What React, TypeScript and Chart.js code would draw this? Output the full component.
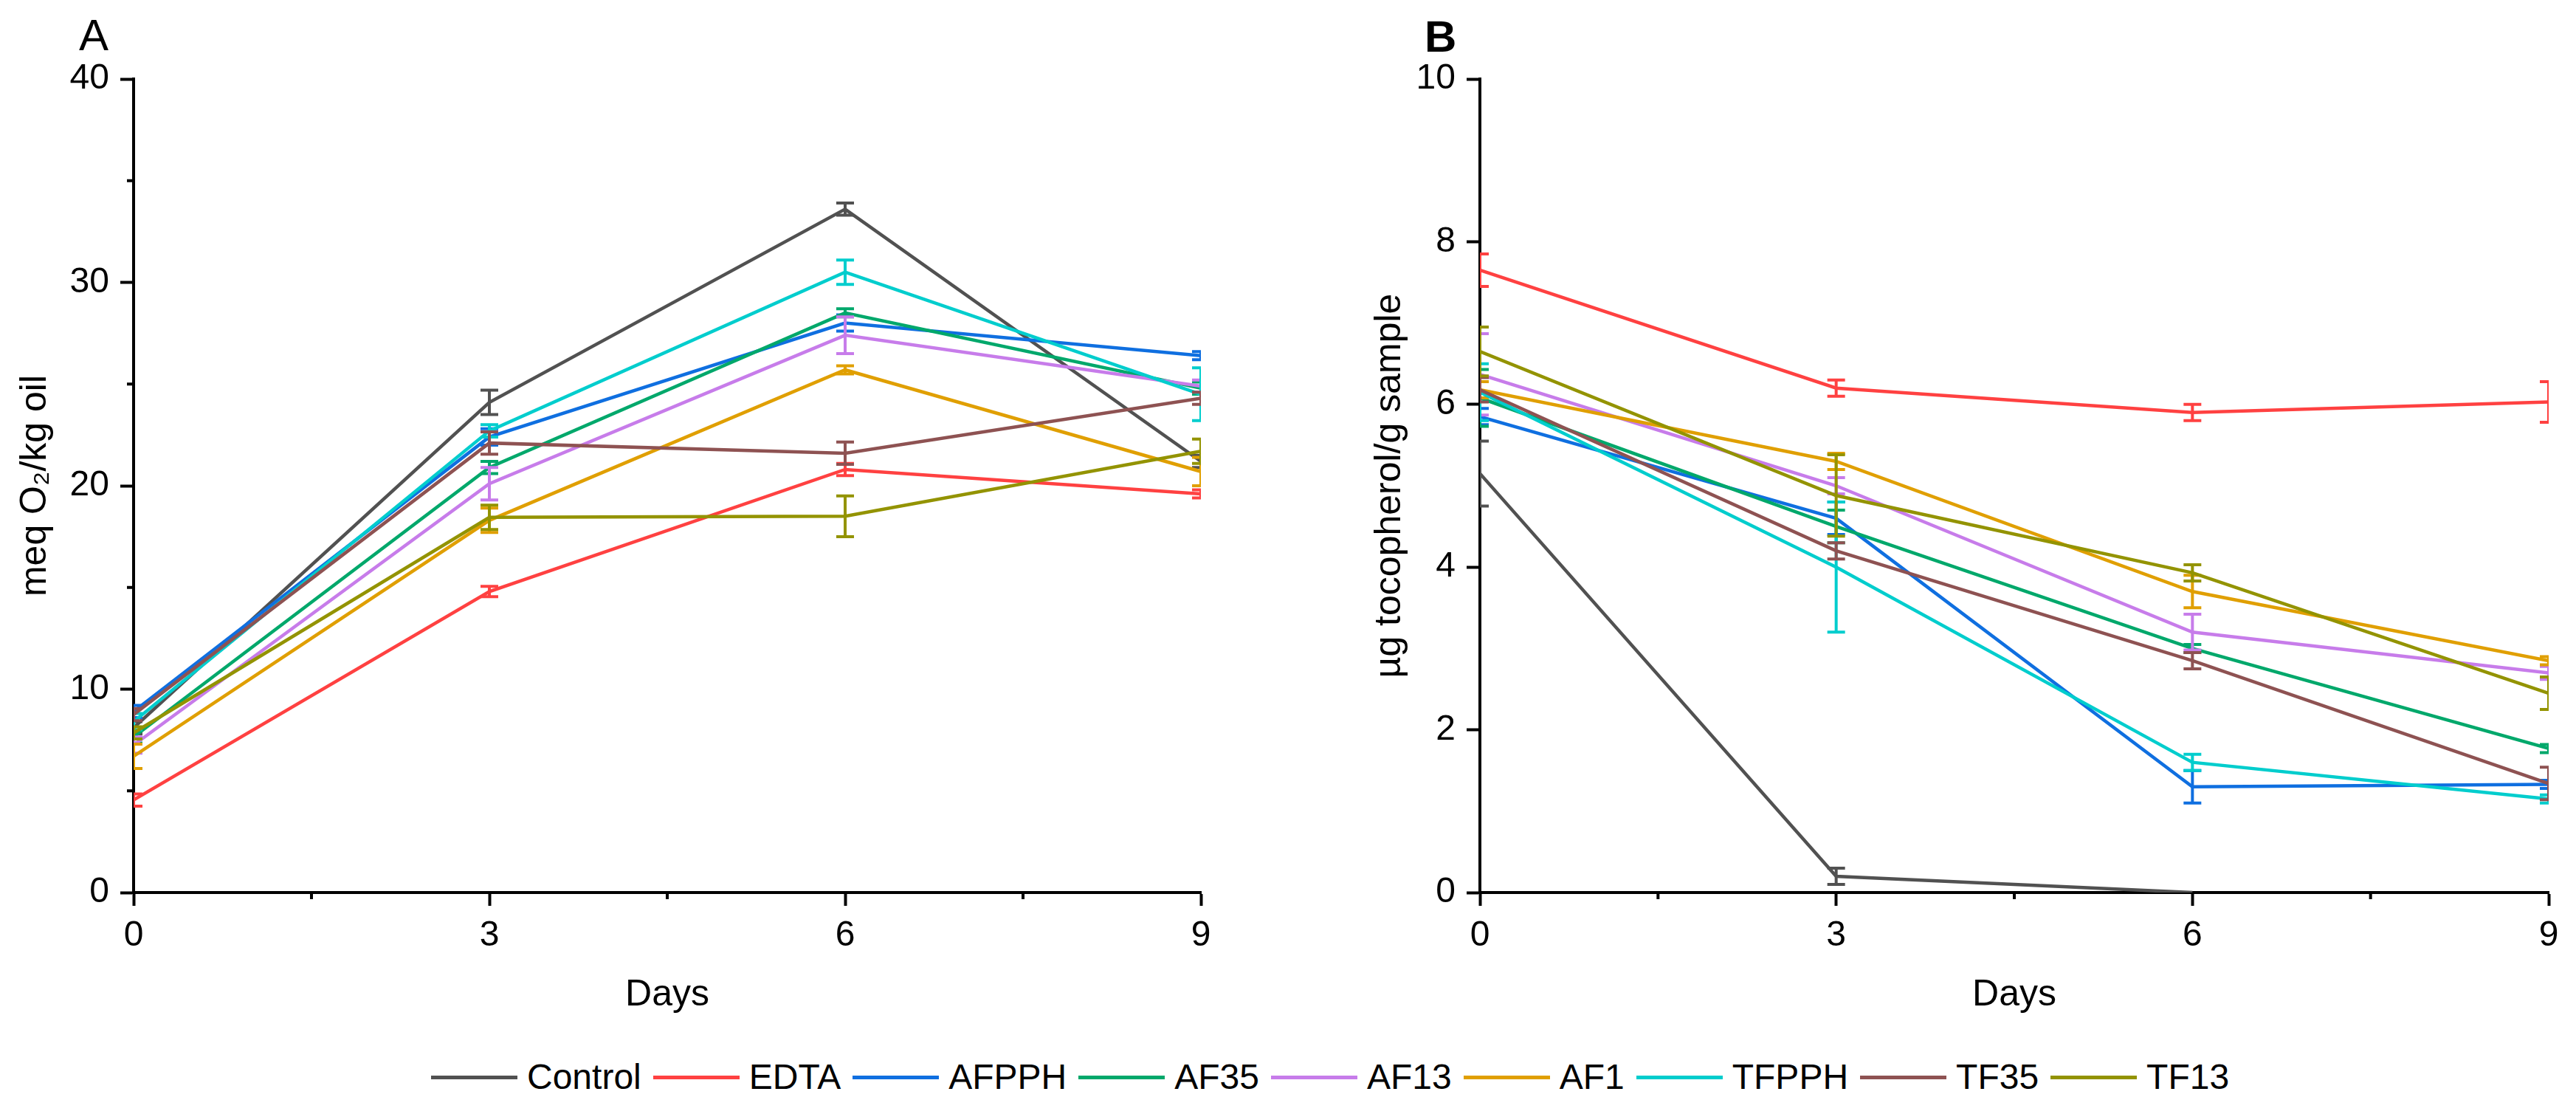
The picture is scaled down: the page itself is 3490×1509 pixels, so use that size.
import React, { useEffect, useRef } from 'react';
import { Chart, registerables } from 'chart.js';

Chart.register(...registerables);

const DAYS = [0, 3, 6, 9];
const SERIES = ['Control', 'EDTA', 'AFPPH', 'AF35', 'AF13', 'AF1', 'TFPPH', 'TF35', 'TF13'];
const COLORS = ['#515151', '#ff4141', '#0f6fe0', '#00a86b', '#c77cea', '#e09f00', '#00cdcd', '#8e5252', '#939300'];

// Panel A: peroxide value (meq O2/kg oil)
const PV_MEAN = [
  [8.1, 24.1, 33.6, 21.2],
  [4.55, 14.8, 20.8, 19.6],
  [8.9, 22.4, 28.0, 26.4],
  [7.65, 20.9, 28.5, 24.8],
  [7.25, 20.1, 27.4, 24.9],
  [6.7, 18.3, 25.7, 20.7],
  [8.4, 22.7, 30.5, 24.5],
  [8.75, 22.1, 21.6, 24.3],
  [7.85, 18.45, 18.5, 21.7],
];
const PV_ERR = [
  [0.3, 0.6, 0.3, 0.3],
  [0.3, 0.25, 0.3, 0.2],
  [0.3, 0.4, 0.4, 0.2],
  [0.3, 0.3, 0.2, 0.3],
  [0.4, 0.8, 0.9, 0.3],
  [0.6, 0.6, 0.2, 0.7],
  [0.4, 0.3, 0.6, 1.3],
  [0.3, 0.55, 0.55, 0.3],
  [0.3, 0.6, 1.0, 0.6],
];

// Panel B: tocopherol (µg/g sample)
const TOC_MEAN: (number | null)[][] = [
  [5.15, 0.2, 0.0, null],
  [7.65, 6.2, 5.9, 6.03],
  [5.85, 4.6, 1.3, 1.33],
  [6.08, 4.5, 3.0, 1.77],
  [6.37, 5.0, 3.2, 2.7],
  [6.18, 5.3, 3.7, 2.85],
  [6.15, 4.0, 1.6, 1.15],
  [6.18, 4.2, 2.85, 1.34],
  [6.65, 4.88, 3.93, 2.45],
];
const TOC_ERR: (number | null)[][] = [
  [0.4, 0.1, null, null],
  [0.2, 0.1, 0.1, 0.25],
  [0.1, 0.2, 0.2, 0.05],
  [0.35, 0.2, 0.05, 0.05],
  [0.5, 0.1, 0.22, 0.08],
  [0.1, 0.1, 0.2, 0.05],
  [0.35, 0.8, 0.1, 0.05],
  [0.15, 0.1, 0.1, 0.2],
  [0.3, 0.5, 0.1, 0.2],
];

const X_STEP = 3;
const X_MINOR = [1.5, 4.5, 7.5];
const PV_Y_MAX = 40;
const PV_Y_STEP = 10;
const PV_Y_MINOR = [5, 15, 25, 35];
const TOC_Y_MAX = 10;
const TOC_Y_STEP = 2;
const TOC_Y_MINOR: number[] = [];

const FONT = "'Liberation Sans', Arial, Helvetica, sans-serif";

const errorBarPlugin = {
  id: 'errorBarsCustom',
  afterDatasetDraw(chart: any, args: any) {
    const ds = chart.data.datasets[args.index];
    const errs = ds.errors as (number | null)[];
    if (!errs) return;
    const { ctx, chartArea } = chart;
    const xs = chart.scales.x;
    const ys = chart.scales.y;
    ctx.save();
    ctx.beginPath();
    ctx.rect(chartArea.left, chartArea.top - 2, chartArea.right - chartArea.left, chartArea.bottom - chartArea.top + 4);
    ctx.clip();
    ctx.strokeStyle = ds.borderColor;
    ctx.lineWidth = 4;
    ctx.lineCap = 'butt';
    ds.data.forEach((p: any, i: number) => {
      const e = errs[i];
      if (p == null || p.y == null || e == null || e === 0) return;
      const x = xs.getPixelForValue(p.x);
      const y1 = ys.getPixelForValue(p.y + e);
      const y2 = ys.getPixelForValue(p.y - e);
      const hw = 12;
      ctx.beginPath();
      ctx.moveTo(x, y1);
      ctx.lineTo(x, y2);
      ctx.moveTo(x - hw, y1);
      ctx.lineTo(x + hw, y1);
      ctx.moveTo(x - hw, y2);
      ctx.lineTo(x + hw, y2);
      ctx.stroke();
    });
    ctx.restore();
  },
};

const minorTickPlugin = {
  id: 'minorTicksCustom',
  afterDraw(chart: any) {
    const { ctx, chartArea } = chart;
    const xs = chart.scales.x;
    const ys = chart.scales.y;
    const xMinor: number[] = chart.config.options.xMinorValues || [];
    const yMinor: number[] = chart.config.options.yMinorValues || [];
    ctx.save();
    ctx.strokeStyle = '#000';
    ctx.lineWidth = 4;
    ctx.beginPath();
    xMinor.forEach((v) => {
      const x = xs.getPixelForValue(v);
      ctx.moveTo(x, chartArea.bottom);
      ctx.lineTo(x, chartArea.bottom + 9);
    });
    yMinor.forEach((v) => {
      const y = ys.getPixelForValue(v);
      ctx.moveTo(chartArea.left, y);
      ctx.lineTo(chartArea.left - 9, y);
    });
    ctx.stroke();
    ctx.restore();
  },
};

function makeConfig(
  means: (number | null)[][],
  errs: (number | null)[][],
  yMax: number,
  yStep: number,
  yMinor: number[],
  yTitle: string,
  yAxisWidth: number,
  yTitlePad: number,
  rightPad: number
): any {
  const datasets = SERIES.map((name, si) => ({
    label: name,
    data: DAYS.map((d, i) => ({ x: d, y: means[si][i] })),
    errors: errs[si],
    borderColor: COLORS[si],
    backgroundColor: COLORS[si],
    borderWidth: 4.5,
    pointRadius: 0,
    pointHoverRadius: 0,
    tension: 0,
    spanGaps: false,
    order: SERIES.length - si,
  }));
  const tickFont = { family: FONT, size: 48 };
  const titleFont = { family: FONT, size: 50 };
  return {
    type: 'line',
    data: { datasets },
    plugins: [errorBarPlugin, minorTickPlugin],
    options: {
      responsive: false,
      animation: false,
      devicePixelRatio: 1,
      xMinorValues: X_MINOR,
      yMinorValues: yMinor,
      layout: { padding: { top: 107, right: rightPad, left: 0, bottom: 0 } },
      plugins: {
        legend: { display: false },
        tooltip: { enabled: false },
        title: { display: false },
      },
      events: [],
      scales: {
        x: {
          type: 'linear',
          min: 0,
          max: 9,
          ticks: { stepSize: X_STEP, font: tickFont, color: '#000', padding: 12, maxRotation: 0 },
          grid: { drawOnChartArea: false, drawTicks: true, tickLength: 18, tickWidth: 4, tickColor: '#000' },
          border: { display: true, color: '#000', width: 4 },
          title: { display: true, text: 'Days', font: titleFont, color: '#000', padding: { top: 0, bottom: 2 } },
          afterFit: (s: any) => {
            s.height = 171;
          },
        },
        y: {
          type: 'linear',
          min: 0,
          max: yMax,
          ticks: { stepSize: yStep, font: tickFont, color: '#000', padding: 15 },
          grid: { drawOnChartArea: false, drawTicks: true, tickLength: 18, tickWidth: 4, tickColor: '#000' },
          border: { display: true, color: '#000', width: 4 },
          title: { display: true, text: yTitle, font: titleFont, color: '#000', padding: { top: yTitlePad, bottom: 0 } },
          afterFit: (s: any) => {
            s.width = yAxisWidth;
          },
        },
      },
    },
  };
}

function Panel(props: { config: any; left: number }) {
  const ref = useRef<HTMLCanvasElement | null>(null);
  useEffect(() => {
    if (!ref.current) return;
    const chart = new Chart(ref.current, props.config);
    return () => chart.destroy();
  }, []);
  return (
    <canvas
      ref={ref}
      width={1745}
      height={1380}
      style={{ position: 'absolute', left: props.left, top: 0, width: 1745, height: 1380 }}
    />
  );
}

export default function App() {
  const cfgA = makeConfig(PV_MEAN, PV_ERR, PV_Y_MAX, PV_Y_STEP, PV_Y_MINOR, 'meq O\u2082/kg oil', 181, 18, 118);
  const cfgB = makeConfig(TOC_MEAN, TOC_ERR, TOC_Y_MAX, TOC_Y_STEP, TOC_Y_MINOR, '\u00b5g tocopherol/g sample', 260, 108, 37);
  return (
    <div
      style={{
        position: 'absolute',
        left: 0,
        top: 0,
        width: 3490,
        height: 1509,
        background: '#fff',
        overflow: 'hidden',
        fontFamily: FONT,
      }}
    >
      <Panel config={cfgA} left={0} />
      <Panel config={cfgB} left={1745} />
      <div style={{ position: 'absolute', left: 107, top: 18, fontSize: 60, lineHeight: 1, color: '#000' }}>A</div>
      <div style={{ position: 'absolute', left: 1930, top: 20, fontSize: 60, lineHeight: 1, fontWeight: 'bold', color: '#000' }}>B</div>
      <div
        style={{
          position: 'absolute',
          left: 584,
          top: 1435,
          height: 48,
          display: 'flex',
          alignItems: 'center',
          whiteSpace: 'nowrap',
        }}
      >
        {SERIES.map((name, i) => (
          <div key={name} style={{ display: 'flex', alignItems: 'center', marginRight: 16 }}>
            <span style={{ display: 'inline-block', width: 117, height: 5, background: COLORS[i], marginRight: 13 }} />
            <span style={{ fontSize: 48, lineHeight: 1, color: '#000' }}>{name}</span>
          </div>
        ))}
      </div>
    </div>
  );
}
